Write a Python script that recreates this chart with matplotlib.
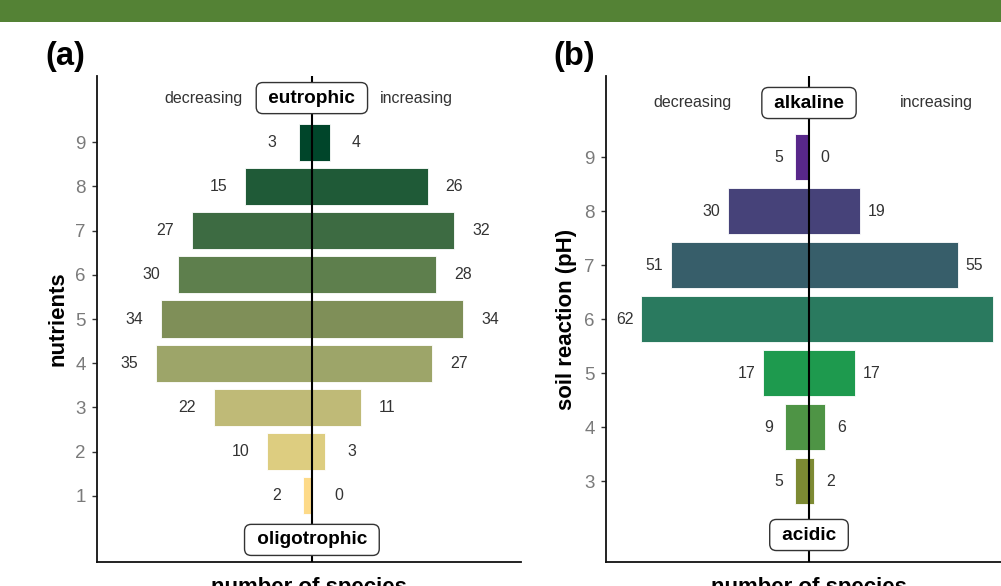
import matplotlib
matplotlib.use("Agg")
import matplotlib.pyplot as plt
from matplotlib.patches import Rectangle

plt.rcParams['font.family'] = ['Liberation Sans', 'DejaVu Sans']

# ---- data ----
nutrient_levels = [1, 2, 3, 4, 5, 6, 7, 8, 9]
nutrient_decreasing = [2, 10, 22, 35, 34, 30, 27, 15, 3]
nutrient_increasing = [0, 3, 11, 27, 34, 28, 32, 26, 4]
nutrient_colors = ['#fdda88', '#ddcd80', '#bfba77', '#9da569', '#7f8f58',
                   '#5e7f4d', '#3d6b42', '#1f5a37', '#00452a']

ph_levels = [3, 4, 5, 6, 7, 8, 9]
ph_decreasing = [5, 9, 17, 62, 51, 30, 5]
ph_increasing = [2, 6, 17, 68, 55, 19, 0]
ph_colors = ['#7d8a33', '#4e9445', '#1e9a4e', '#2a7a5f', '#375e6a',
             '#464279', '#58278a']

W, H = 1001, 586
fig = plt.figure(figsize=(W / 100, H / 100), dpi=100)

# green band on top
fig.patches.append(Rectangle((0, 1 - 22 / H), 1, 22 / H, transform=fig.transFigure,
                             facecolor='#548235', edgecolor='none', zorder=0))


def px_axes(x0, x1, y_top, y_bot):
    return fig.add_axes([x0 / W, (H - y_bot) / H, (x1 - x0) / W, (y_bot - y_top) / H])


def draw_panel(ax, levels, dec, inc, colors, xlim, ylim, top_label, bottom_label,
               dec_x, inc_x, top_y, bot_y, ylabel, letter, letter_x):
    for lv, d, i, c in zip(levels, dec, inc, colors):
        ax.barh(lv, -d, height=0.84, color=c, edgecolor='white', linewidth=0.6, zorder=2)
        ax.barh(lv, i, height=0.84, color=c, edgecolor='white', linewidth=0.6, zorder=2)
        ax.text(-d - 6, lv, str(d), ha='center', va='center', fontsize=11.4,
                color='#333333', zorder=4)
        ax.text(i + 6, lv, str(i), ha='center', va='center', fontsize=11.4,
                color='#333333', zorder=4, clip_on=False)
    ax.axvline(0, color='black', linewidth=1.5, zorder=3)
    box = dict(boxstyle='round,pad=0.37,rounding_size=0.35', facecolor='white',
               edgecolor='#333333', linewidth=1.0)
    ax.text(0, top_y, ' ' + top_label + ' ', ha='center', va='center', fontsize=13.7,
            fontweight='bold', color='black', bbox=box, zorder=5)
    ax.text(0, bot_y, ' ' + bottom_label + ' ', ha='center', va='center', fontsize=13.7,
            fontweight='bold', color='black', bbox=box, zorder=5)
    ax.text(dec_x, top_y, 'decreasing', ha='center', va='center', fontsize=11.5,
            color='#333333', zorder=4)
    ax.text(inc_x, top_y, 'increasing', ha='center', va='center', fontsize=11.5,
            color='#333333', zorder=4, clip_on=False)
    ax.set_xlim(*xlim)
    ax.set_ylim(*ylim)
    ax.set_yticks(levels)
    ax.set_yticklabels([str(v) for v in levels])
    ax.set_xticks([])
    ax.tick_params(axis='y', length=3.5, width=1.0, color='#333333',
                   labelsize=13.5, labelcolor='#7a7a7a', pad=4.5)
    for s in ['top', 'right']:
        ax.spines[s].set_visible(False)
    for s in ['left', 'bottom']:
        ax.spines[s].set_linewidth(1.3)
        ax.spines[s].set_color('#111111')
    ax.set_ylabel(ylabel, fontsize=16, fontweight='bold', labelpad=5)
    ax.set_xlabel('')
    fig.text(letter_x / W, 1 - 57 / H, letter, ha='center', va='center',
             fontsize=23.5, fontweight='bold')


ax1 = px_axes(97, 521, 76, 562)
draw_panel(ax1, nutrient_levels, nutrient_decreasing, nutrient_increasing, nutrient_colors,
           (-48.3, 47.0), (-0.5, 10.5), 'eutrophic', 'oligotrophic',
           -24.3, 23.4, 10, 0, 'nutrients', '(a)', 65)

ax2 = px_axes(606, 1012, 76, 562)
draw_panel(ax2, ph_levels, ph_decreasing, ph_increasing, ph_colors,
           (-74.9, 74.9), (1.5, 10.5), 'alkaline', 'acidic',
           -43, 47, 10, 2, 'soil reaction (pH)', '(b)', 574)

# x labels (cut off by the bottom edge as in the reference)
fig.text(309 / W, (H - 593) / H, 'number of species', ha='center', va='baseline',
         fontsize=16, fontweight='bold')
fig.text(809 / W, (H - 593) / H, 'number of species', ha='center', va='baseline',
         fontsize=16, fontweight='bold')

fig.savefig('out.png', dpi=100)
